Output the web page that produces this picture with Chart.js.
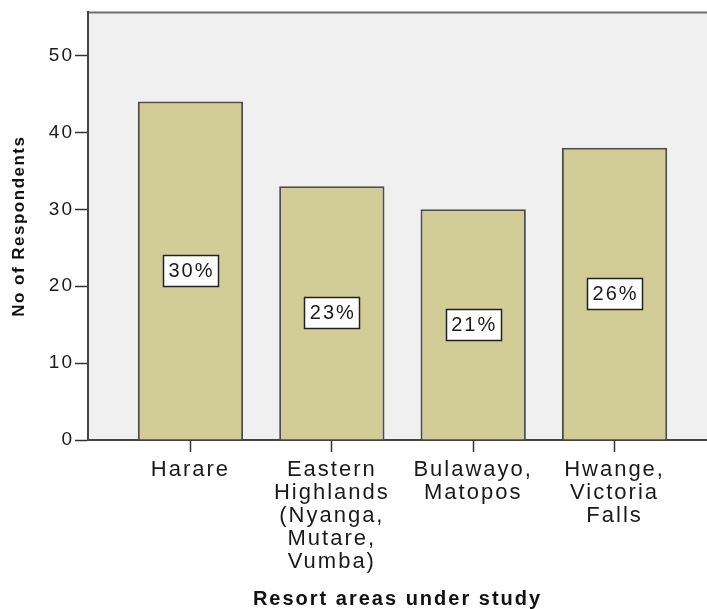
<!DOCTYPE html>
<html>
<head>
<meta charset="utf-8">
<script src="https://cdn.jsdelivr.net/npm/chart.js@4"></script>
<style>
  html, body { margin: 0; padding: 0; background: #fff; }
  canvas { display: block; }
</style>
</head>
<body>
<canvas id="myChart" width="707" height="609"></canvas>
<script>
// resort areas (one line per entry) and how many respondents picked each
const areas = [
  ["Harare"],
  ["Eastern", "Highlands", "(Nyanga,", "Mutare,", "Vumba)"],
  ["Bulawayo,", "Matopos"],
  ["Hwange,", "Victoria", "Falls"]
];
const respondents = [44, 33, 30, 38];
const shares = [30, 23, 21, 26];
const yTicks = [0, 10, 20, 30, 40, 50];

const FONT = "'Liberation Sans', Arial, sans-serif";
const positions = areas.map((a, i) => i + 1);

// SPSS-ish wide text
const spacing = {
  id: "spacing",
  beforeUpdate(chart) { chart.ctx.letterSpacing = "2px"; },
  beforeDraw(chart) { chart.ctx.letterSpacing = "2px"; }
};

// grey plot panel + top frame line
const panel = {
  id: "panel",
  beforeDraw(chart) {
    const { ctx, chartArea: a } = chart;
    ctx.save();
    ctx.fillStyle = "#f0f0f0";
    ctx.fillRect(a.left, a.top, a.right - a.left, a.bottom - a.top);
    ctx.strokeStyle = "#6e6e6e";
    ctx.lineWidth = 2;
    ctx.beginPath();
    ctx.moveTo(a.left, a.top);
    ctx.lineTo(a.right, a.top);
    ctx.stroke();
    ctx.restore();
  }
};

// percentage boxes in the middle of each bar
const boxes = {
  id: "boxes",
  afterDatasetsDraw(chart) {
    const ctx = chart.ctx;
    const meta = chart.getDatasetMeta(0);
    ctx.save();
    ctx.letterSpacing = "2px";
    ctx.font = "20px " + FONT;
    ctx.textAlign = "center";
    ctx.textBaseline = "middle";
    meta.data.forEach((bar, i) => {
      const txt = shares[i] + "%";
      const cy = (bar.y + bar.base) / 2;
      const w = Math.round(ctx.measureText(txt).width + 9);
      const h = 31;
      const x0 = Math.round(bar.x - w / 2) + 0.5;
      const y0 = Math.round(cy - h / 2) + 0.5;
      ctx.fillStyle = "#ffffff";
      ctx.fillRect(x0, y0, w, h);
      ctx.strokeStyle = "#222";
      ctx.lineWidth = 1.5;
      ctx.strokeRect(x0, y0, w, h);
      ctx.fillStyle = "#1a1a1a";
      ctx.fillText(txt, bar.x + 1, cy + 1);
    });
    ctx.restore();
  }
};

// rotated y-axis title, tighter than the rest
const yTitle = {
  id: "yTitle",
  afterDraw(chart) {
    const { ctx, chartArea: a } = chart;
    ctx.save();
    ctx.letterSpacing = "1.5px";
    ctx.translate(19, (a.top + a.bottom) / 2);
    ctx.rotate(-Math.PI / 2);
    ctx.font = "bold 17px " + FONT;
    ctx.fillStyle = "#111";
    ctx.textAlign = "center";
    ctx.textBaseline = "middle";
    ctx.fillText("No of Respondents", 0, 0);
    ctx.restore();
  }
};

const ctx = document.getElementById("myChart");
const myChart = new Chart(ctx, {
  type: "bar",
  data: {
    datasets: [{
      data: positions.map((p, i) => ({ x: p, y: respondents[i] })),
      backgroundColor: "#d2cd96",
      borderColor: "#4d4d4d",
      borderWidth: 2,
      barPercentage: 0.745,
      categoryPercentage: 1
    }]
  },
  options: {
    responsive: false,
    animation: false,
    layout: { padding: { top: 12, left: 0, right: 0, bottom: 0 } },
    plugins: { legend: { display: false }, tooltip: { enabled: false } },
    scales: {
      x: {
        type: "linear",
        offset: false,
        min: 0.275,
        max: 4.654,
        afterBuildTicks: s => { s.ticks = positions.map(v => ({ value: v })); },
        afterFit: s => { s.height = 169; },
        grid: { display: true, offset: false, drawOnChartArea: false, tickLength: 12, tickColor: "#333", tickWidth: 1.5 },
        border: { display: true, color: "#444", width: 2 },
        ticks: {
          autoSkip: false,
          maxRotation: 0,
          padding: 6,
          color: "#1a1a1a",
          font: { family: FONT, size: 22, lineHeight: 1.05 },
          callback: v => areas[v - 1]
        },
        title: {
          display: true,
          text: "Resort areas under study",
          color: "#111",
          font: { family: FONT, size: 20, weight: "bold", lineHeight: 1 },
          padding: { top: 0, bottom: 0 }
        }
      },
      y: {
        min: 0,
        max: 55.6,
        afterBuildTicks: s => { s.ticks = yTicks.map(v => ({ value: v })); },
        afterFit: s => { s.width = 88; },
        grid: { display: true, drawOnChartArea: false, tickLength: 13, tickColor: "#333", tickWidth: 1.5 },
        border: { display: true, color: "#444", width: 2 },
        ticks: { padding: 1, color: "#1a1a1a", font: { family: FONT, size: 19 } }
      }
    }
  },
  plugins: [spacing, panel, boxes, yTitle]
});
</script>
</body>
</html>
